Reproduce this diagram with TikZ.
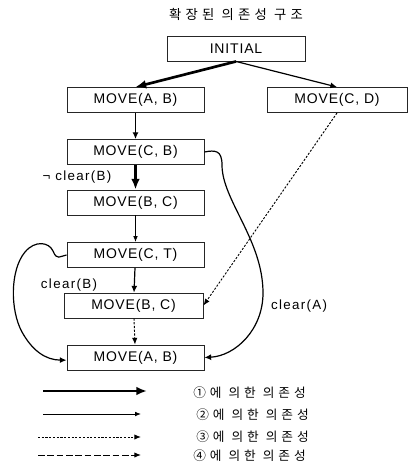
\documentclass[tikz,border=0pt]{standalone}
\usepackage{fontspec}
\setmainfont{Liberation Sans}
\newfontfamily\boxfont{Liberation Sans}[LetterSpace=6]
\newfontfamily\lblfont{Liberation Sans}[LetterSpace=10]
\newfontfamily\krfont{Noto Sans CJK KR}[LetterSpace=32]
\newfontfamily\krleg{Noto Sans CJK KR}[LetterSpace=32]
\usetikzlibrary{arrows.meta}
\tikzset{
  mbox/.style={draw=black!85, line width=0.7pt, minimum width=102.75pt, minimum height=18.75pt, inner sep=0pt, font=\boxfont\fontsize{10.5}{12}\selectfont},
  lbl/.style={inner sep=0pt, font=\lblfont\fontsize{10}{12}\selectfont},
  krlbl/.style={inner sep=0pt, anchor=west, font=\krleg\fontsize{9.5}{11}\selectfont},
  depa/.style={line width=2pt, -{Latex[length=8pt,width=6.5pt]}},
  depb/.style={line width=0.6pt, -{Latex[length=4.5pt,width=3.5pt]}},
  depm/.style={line width=0.9pt, -{Latex[length=5pt,width=4.5pt]}},
  depc/.style={line width=0.7pt, dash pattern=on 1.6pt off 1.2pt, -{Latex[length=5pt,width=4pt]}},
  depd/.style={line width=0.7pt, dash pattern=on 5pt off 2pt, -{Latex[length=5pt,width=4pt]}},
}
\begin{document}
\begin{tikzpicture}[x=0.75pt,y=-0.75pt]
\useasboundingbox (0,0) rectangle (408,466);
% title
\node[inner sep=0pt, font=\krfont\fontsize{10}{12}\selectfont] (title) at (236,14) {확장된 의존성 구조};
% boxes
\node[mbox, minimum width=103.5pt] (init) at (236,48.5) {INITIAL};
\node[mbox] (ab1) at (135.5,100) {MOVE(A, B)};
\node[mbox, minimum width=105pt] (cd) at (337,100) {MOVE(C, D)};
\node[mbox] (cb) at (135.5,152) {MOVE(C, B)};
\node[mbox] (bc1) at (135.5,202.5) {MOVE(B, C)};
\node[mbox] (ct) at (135.5,255) {MOVE(C, T)};
\node[mbox, minimum width=104.25pt] (bc2) at (133.5,305.5) {MOVE(B, C)};
\node[mbox] (ab2) at (135.5,357.5) {MOVE(A, B)};
% labels
\node[lbl] (l1) at (77,177) {¬ clear(B)};
\node[lbl] (l2) at (69,285) {clear(B)};
\node[lbl] (l3) at (299,306) {clear(A)};
% connectors
\draw[depa] (init.south) -- (ab1.north);
\draw[depm] (init.south) -- (cd.north);
\draw[depm] (ab1) -- (cb);
\draw[depa] (cb) -- (bc1);
\draw[depb] (bc1) -- (ct);
\draw[depm] (ct) -- (bc2);
\draw[depc] (bc2) -- (ab2);
\draw[depc] (cd.south) -- (bc2.east);
\draw[depm] (cb.east) .. controls (215,150) and (222,150) .. (222,165)
  .. controls (222,200) and (263,240) .. (263,293)
  .. controls (263,330) and (235,356) .. (ab2.east);
\draw[depm] (ct.west) .. controls (60,256) and (57,261) .. (53,251)
  .. controls (49,242) and (35,240) .. (25,252)
  .. controls (10,270) and (10,310) .. (22,332)
  .. controls (32,350) and (45,360) .. ([yshift=-2pt]ab2.west);
% legend
\coordinate (a1) at (43,391); \coordinate (b1) at (147,391);
\coordinate (a2) at (43,414); \coordinate (b2) at (141,414);
\coordinate (a3) at (38,437); \coordinate (b3) at (141,437);
\coordinate (a4) at (38,455); \coordinate (b4) at (141,455);
\draw[depa] (a1) -- (b1);
\draw[depb] (a2) -- (b2);
\draw[depc] (a3) -- (b3);
\draw[depd] (a4) -- (b4);
\node[krlbl] (t1) at (193,393) {①에 의한 의존성};
\node[krlbl] (t2) at (196,415) {②에 의한 의존성};
\node[krlbl] (t3) at (196,437) {③에 의한 의존성};
\node[krlbl] (t4) at (193,456) {④에 의한 의존성};
\end{tikzpicture}
\end{document}
